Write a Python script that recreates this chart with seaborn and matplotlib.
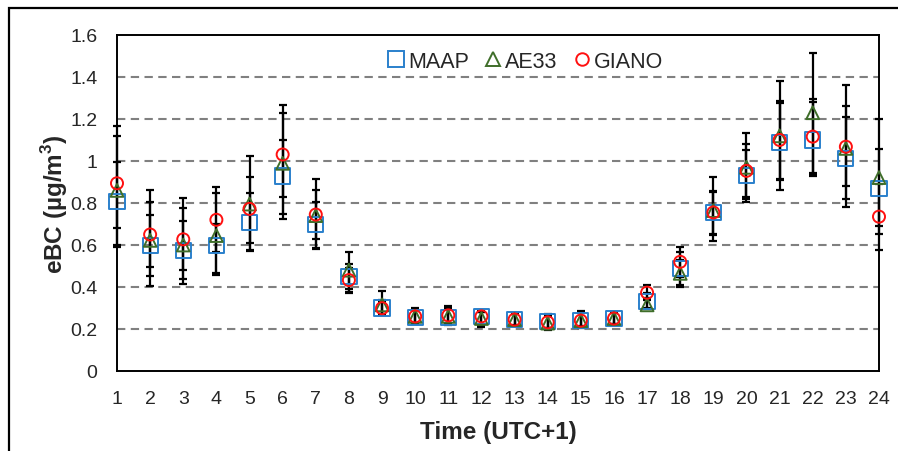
import numpy as np
import pandas as pd
import matplotlib
matplotlib.use("Agg")
import matplotlib.pyplot as plt
import seaborn as sns
from matplotlib.patches import Rectangle
from matplotlib.lines import Line2D

hours = list(range(1, 25))

maap = [0.806, 0.598, 0.572, 0.598, 0.709, 0.929, 0.696, 0.449, 0.300, 0.255, 0.255, 0.260,
        0.245, 0.235, 0.240, 0.250, 0.331, 0.488, 0.756, 0.932, 1.087, 1.100, 1.011, 0.869]
ae33 = [0.860, 0.622, 0.600, 0.645, 0.795, 0.989, 0.740, 0.480, 0.315, 0.260, 0.260, 0.250,
        0.245, 0.228, 0.240, 0.250, 0.315, 0.465, 0.764, 0.970, 1.120, 1.230, 1.060, 0.921]
giano = [0.894, 0.650, 0.627, 0.720, 0.772, 1.031, 0.745, 0.433, 0.299, 0.260, 0.265, 0.260,
         0.245, 0.232, 0.240, 0.250, 0.373, 0.520, 0.755, 0.953, 1.100, 1.116, 1.068, 0.735]

# error-bar bounds (lower / upper)
maap_lo = [0.600, 0.452, 0.414, 0.468, 0.575, 0.748, 0.584, 0.378, 0.265, 0.228, 0.225, 0.215,
           0.215, 0.205, 0.210, 0.222, 0.296, 0.410, 0.653, 0.820, 0.910, 0.929, 0.819, 0.689]
maap_hi = [0.997, 0.743, 0.713, 0.700, 0.847, 1.102, 0.806, 0.510, 0.340, 0.295, 0.300, 0.280,
           0.272, 0.265, 0.280, 0.275, 0.370, 0.567, 0.853, 1.052, 1.277, 1.280, 1.209, 1.056]
ae33_lo = [0.590, 0.403, 0.438, 0.455, 0.570, 0.724, 0.581, 0.390, 0.270, 0.224, 0.220, 0.211,
           0.213, 0.197, 0.206, 0.220, 0.300, 0.400, 0.618, 0.806, 0.863, 0.945, 0.779, 0.653]
ae33_hi = [1.117, 0.803, 0.775, 0.850, 1.024, 1.268, 0.914, 0.568, 0.381, 0.300, 0.308, 0.287,
           0.276, 0.270, 0.286, 0.280, 0.350, 0.530, 0.924, 1.135, 1.379, 1.514, 1.364, 1.200]
giano_lo = [0.679, 0.494, 0.479, 0.565, 0.609, 0.830, 0.629, 0.371, 0.270, 0.228, 0.228, 0.215,
            0.218, 0.205, 0.212, 0.224, 0.340, 0.450, 0.650, 0.827, 0.913, 0.935, 0.882, 0.577]
giano_hi = [1.168, 0.861, 0.824, 0.874, 0.924, 1.228, 0.863, 0.490, 0.330, 0.292, 0.302, 0.283,
            0.272, 0.262, 0.278, 0.276, 0.409, 0.591, 0.858, 1.079, 1.285, 1.293, 1.264, 0.890]

y_ticks = [0, 0.2, 0.4, 0.6, 0.8, 1.0, 1.2, 1.4, 1.6]
y_tick_labels = ["0", "0.2", "0.4", "0.6", "0.8", "1", "1.2", "1.4", "1.6"]

series_names = ["MAAP", "AE33", "GIANO"]

sns.set_theme(style="white")
plt.rcParams["font.family"] = ["Liberation Sans", "DejaVu Sans"]
plt.rcParams["mathtext.fontset"] = "custom"
plt.rcParams["mathtext.rm"] = "Liberation Sans:bold"
plt.rcParams["mathtext.bf"] = "Liberation Sans:bold"

df = pd.DataFrame({
    "hour": hours * 3,
    "eBC": maap + ae33 + giano,
    "lo": maap_lo + ae33_lo + giano_lo,
    "hi": maap_hi + ae33_hi + giano_hi,
    "instrument": [s for s in series_names for _ in hours],
})

fig = plt.figure(figsize=(8.98, 4.52), dpi=100)
ax = fig.add_axes([117 / 898, 1 - 372 / 452, (879 - 117) / 898, (372 - 36) / 452])

# outer frame (top and left lines)
fig.add_artist(Rectangle((9 / 898, -0.1), 1.2, 1 - 9 / 452 + 0.1, transform=fig.transFigure,
                         fill=False, edgecolor="black", linewidth=1.6, clip_on=False))

# gridlines
for yv in y_ticks[1:-1]:
    ax.axhline(yv, color="#808080", linestyle=(0, (4, 2.6)), linewidth=1.5, zorder=1)

# error bars
for name in series_names:
    sub = df[df["instrument"] == name]
    yerr = np.vstack([sub["eBC"] - sub["lo"], sub["hi"] - sub["eBC"]])
    ax.errorbar(sub["hour"], sub["eBC"], yerr=yerr, fmt="none", ecolor="black",
                elinewidth=1.6, capsize=3.2, capthick=1.6, zorder=2, clip_on=False)

colors = {"MAAP": "#2a80cc", "AE33": "#3f6e2a", "GIANO": "#ff1010"}
markers = {"MAAP": "s", "AE33": "^", "GIANO": "o"}
sizes = {"MAAP": 120, "AE33": 85, "GIANO": 75}

for i, name in enumerate(series_names):
    sub = df[df["instrument"] == name]
    sns.scatterplot(data=sub, x="hour", y="eBC", ax=ax, marker=markers[name],
                    s=sizes[name], facecolor="none", edgecolor=colors[name],
                    linewidth=1.4, zorder=3 + i, clip_on=False, legend=False)

ax.set_xlim(1, 24)
ax.set_ylim(0, 1.6)
ax.set_xticks(hours)
ax.set_xticklabels([str(h) for h in hours], fontsize=14)
ax.set_yticks(y_ticks)
ax.set_yticklabels(y_tick_labels, fontsize=14)
ax.tick_params(axis="x", direction="in", length=5, width=1.2, color="black", pad=14)
ax.tick_params(axis="y", length=0, pad=14)
for s in ax.spines.values():
    s.set_visible(True)
    s.set_color("black")
    s.set_linewidth(1.4)

ax.set_xlabel("Time (UTC+1)", fontsize=17.5, fontweight="bold", labelpad=9)
ax.set_ylabel(r"eBC (µg/m$^{3}$)", fontsize=17.5, fontweight="bold", labelpad=0)

# legend
handles = [Line2D([], [], linestyle="none", marker=markers[n], markersize=ms,
                  markerfacecolor="none", markeredgecolor=colors[n], markeredgewidth=1.4)
           for n, ms in zip(series_names, [11, 9.5, 9])]
leg = ax.legend(handles, series_names, loc="center", bbox_to_anchor=(0.536, 0.922),
                ncol=3, frameon=False, fontsize=15.5, handlelength=0.8, handletextpad=0.15,
                columnspacing=0.75, borderaxespad=0)

fig.savefig("out.png", dpi=100)
